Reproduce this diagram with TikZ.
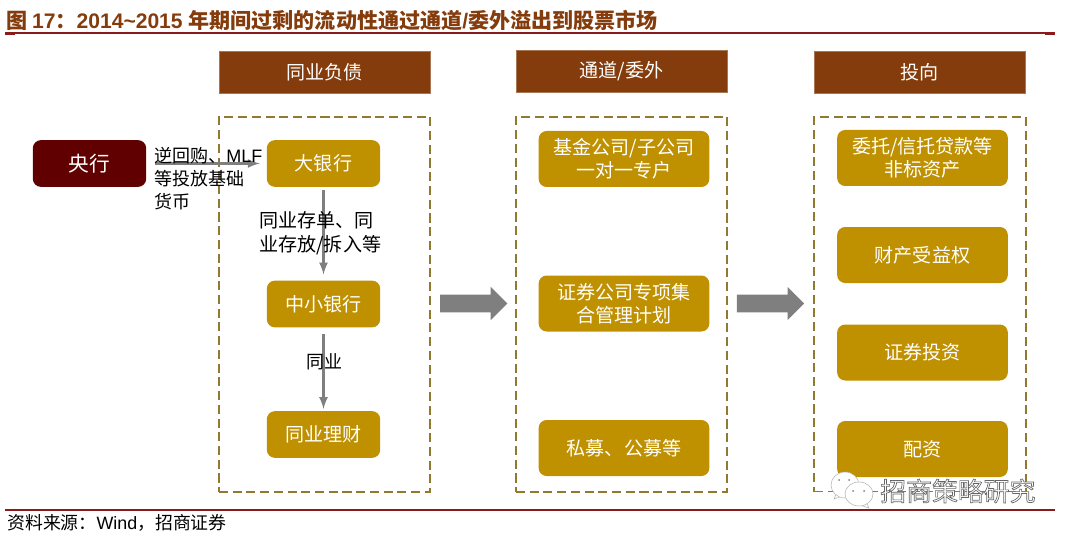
\documentclass[tikz,border=0pt]{standalone}
\usepackage{fontspec}
\setmainfont{Liberation Sans}
\newfontfamily\cjk{Noto Sans CJK SC}
\usetikzlibrary{shapes.arrows}
\definecolor{brownhead}{HTML}{843C0C}
\definecolor{gold}{HTML}{BF9000}
\definecolor{darkred}{HTML}{600000}
\definecolor{rulered}{HTML}{8B1A1A}
\definecolor{dashgold}{HTML}{8F7A2E}
\definecolor{arrowgray}{HTML}{7F7F7F}
\tikzset{x=0.75pt, y=-0.75pt, node distance=105pt, auto,
  head/.style={fill=brownhead, draw=brownhead!70!white, minimum width=158pt, minimum height=31.5pt, text=white, font=\cjk\fontsize{14.3pt}{17pt}\selectfont, inner sep=0pt},
  pill/.style={fill=gold, rounded corners=6pt, minimum width=128pt, minimum height=42pt, text=white, align=center, font=\cjk\fontsize{14.3pt}{17pt}\selectfont, inner sep=0pt},
  small/.style={pill, minimum width=85pt, minimum height=35pt},
  zone/.style={draw=dashgold, line width=1.4pt, dash pattern=on 6.8pt off 3.5pt, minimum width=158.5pt, minimum height=281pt, inner sep=0pt},
  note/.style={align=left, anchor=north west, inner sep=0pt, font=\cjk\fontsize{13.5pt}{17.3pt}\selectfont},
  thin arrow/.style={draw=arrowgray, line width=2pt, -latex},
  fat/.style={single arrow, fill=arrowgray, minimum height=50.5pt, inner xsep=0pt, inner ysep=6.5pt, single arrow head extend=5.75pt, single arrow tip angle=90}
}

\begin{document}
\begin{tikzpicture}
  \useasboundingbox (0,0) rectangle (1069,538);
  % title and rules
  \node (title) [anchor=west, inner sep=0pt, text=brownhead] at (6,20) {\fontsize{15.8pt}{18pt}\selectfont\bfseries\cjk 图 \rmfamily 17\cjk：\rmfamily 2014\textasciitilde2015 \cjk 年期间过剩的流动性通过通道\rmfamily /\cjk 委外溢出到股票市场};
  \draw[rulered, line width=1pt] (5,33) -- (1055,33);
  \fill[rulered] (5,33) rectangle (15,35);
  \fill[rulered] (1045,33) rectangle (1055,35);
  \draw[rulered, line width=1.5pt] (5,510) -- (1055,510);
  \node (source) [anchor=west, inner sep=0pt] at (7,523) {\fontsize{13.4pt}{15pt}\selectfont\cjk 资料来源：\rmfamily Wind\cjk，招商证券};
  % columns
  \node (headA) [head] at (324.5,72) {同业负债};
  \node (headB) [head] at (621.5,71) {通道/委外};
  \node (headC) [head] at (919.5,72) {投向};
  \node (zoneA) [zone] at (324.5,304.5) {};
  \node (zoneB) [zone] at (621.5,304.5) {};
  \node (zoneC) [zone] at (920,304.2) {};
  % left column
  \node (pboc) [small, fill=darkred, font=\cjk\fontsize{15.5pt}{17pt}\selectfont] at (89.5,163.5) {央行};
  \node (big) [small] at (323.5,163.5) {大银行};
  \node (mid) [small] at (323.5,304) {中小银行};
  \node (wm) [small] at (323.5,434.5) {同业理财};
  \draw[thin arrow, shorten >=5.25pt, shorten <=6.75pt] (pboc) -- (big);
  \draw[thin arrow, shorten >=4.5pt, shorten <=2.5pt] (big) -- (mid);
  \draw[thin arrow, shorten >=1.5pt, shorten <=5pt] (mid) -- (wm);
  \node (noteA) [note] at (154,147) {逆回购、\rmfamily MLF\\\cjk 等投放基础\\货币};
  \node (noteB) [note, font=\cjk\fontsize{14.3pt}{18pt}\selectfont] at (259,211) {同业存单、同\\业存放/拆入等};
  \node (noteC) [note] at (306,353) {同业};
  % middle column
  \node (fund) [pill] at (624,159) {基金公司/子公司\\一对一专户};
  \node (sec) [pill] at (624,303.5) {证券公司专项集\\合管理计划};
  \node (pe) [pill] at (624,448) {私募、公募等};
  % right column
  \node (loan) [pill] at (922.5,158) {委托/信托贷款等\\非标资产};
  \node (rights) [pill] at (922.5,255) {财产受益权};
  \node (invest) [pill] at (922.5,352.5) {证券投资};
  \node (margin) [pill] at (922.5,449) {配资};
  % big arrows
  \node (flowA) [fat] at (469.2,303.5) {};
  \node (flowB) [fat] at (766,303.5) {};
  % watermark
  \draw[gray!60, fill=white] (838,490) -- (834,499) -- (845,495) -- cycle;
  \draw[gray!60, fill=white] (845,485) ellipse (14 and 13);
  \draw[gray!60, fill=white] (866,502) -- (869,508) -- (860,505) -- cycle;
  \draw[gray!60, fill=white] (859,494) ellipse (14 and 12);
  \foreach \dotx/\doty in {839/480, 849/480, 853/491, 864/491}
    \fill[gray] (\dotx,\doty) circle (1);
  \node (mark) [anchor=west, inner sep=0pt, text=white] at (880,491) {\fontsize{19.4pt}{21pt}\selectfont\cjk\special{pdf:code 2 Tr 0.5 w 0.4 G}招商策略研究\special{pdf:code 0 Tr}};
\end{tikzpicture}
\end{document}
